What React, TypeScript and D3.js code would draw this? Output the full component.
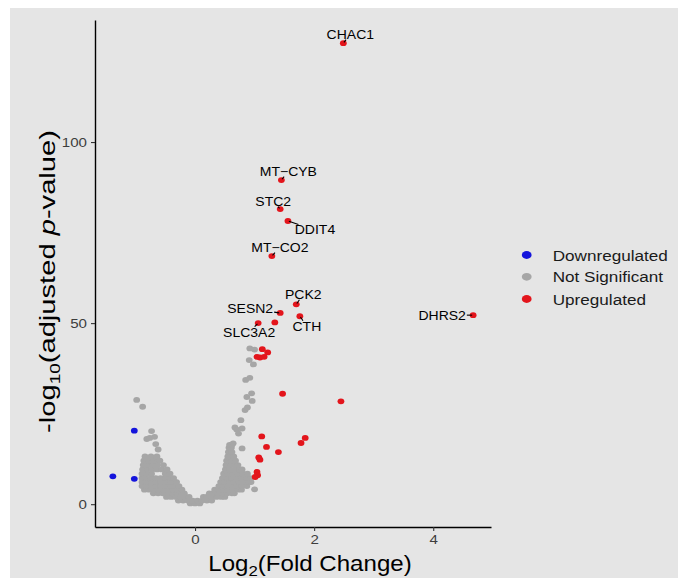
import React, { useEffect, useRef } from "react";
import * as d3 from "d3";

const W = 678;
const H = 578;

// Labelled (upregulated) genes
const geneNames = ["CHAC1", "MT−CYB", "STC2", "DDIT4", "MT−CO2", "PCK2", "SESN2", "CTH", "SLC3A2", "DHRS2"];
const geneLog2FC = [2.49, 1.45, 1.43, 1.56, 1.29, 1.7, 1.43, 1.76, 1.06, 4.67];
const geneNegLogP = [127.3, 89.5, 81.5, 78.2, 68.5, 55.2, 52.8, 51.9, 50.0, 52.2];

// Other upregulated genes
const upLog2FC = [1.13, 1.22, 1.04, 1.09, 1.16, 1.34, 1.47, 2.45, 1.12, 1.2, 1.4, 1.07, 1.09, 1.78, 1.85, 1.04, 1.05, 1.01];
const upNegLogP = [42.8, 41.9, 40.7, 40.5, 40.7, 50.2, 30.5, 28.4, 18.7, 15.8, 14.4, 12.9, 12.3, 16.9, 18.3, 8.9, 8.0, 7.5];

// Downregulated genes
const downLog2FC = [-1.02, -1.38, -1.02];
const downNegLogP = [20.3, 7.7, 7.0];

// Not significant: scattered genes
const nsOutLog2FC = [-0.98, -0.88, -0.73, -0.81, -0.76, -0.68, -0.66, -0.62, 0.92, 1.0, 0.91, 0.98, 0.85, 0.92, 0.87, 0.95, 0.96, 0.84, 0.88, 0.77, 0.67, 0.7, 0.73, 0.79, 0.79, 0.64, 1.0];
const nsOutNegLogP = [28.8, 26.9, 20.2, 18.0, 18.3, 18.6, 16.6, 15.1, 43.0, 42.7, 39.8, 38.6, 34.3, 34.9, 29.6, 30.6, 28.5, 26.0, 26.7, 23.2, 21.2, 20.6, 19.5, 20.9, 15.4, 16.8, 4.1];

// Not significant: dense cloud, by -log10 p row, then log2FC values
const nsRowP = [0.2, 1.0, 2.0, 3.0, 4.0, 5.0, 6.1, 7.2, 8.4, 9.6, 10.8, 12.0, 13.2, 14.4, 15.6, 16.4];
const nsRowFC = [
  [-0.08, 0, 0.08],
  [-0.28, -0.2, -0.12, -0.04, 0.04, 0.12, 0.2, 0.28],
  [-0.48, -0.4, -0.32, -0.24, -0.16, -0.1, 0.14, 0.2, 0.28, 0.36, 0.44, 0.5],
  [-0.7, -0.62, -0.54, -0.46, -0.38, -0.3, -0.22, -0.18, 0.24, 0.3, 0.38, 0.46, 0.54, 0.62, 0.66],
  [-0.85, -0.77, -0.69, -0.61, -0.53, -0.45, -0.37, -0.29, -0.22, 0.33, 0.4, 0.48, 0.56, 0.64, 0.72, 0.78],
  [-0.89, -0.81, -0.73, -0.65, -0.57, -0.49, -0.41, -0.33, -0.27, 0.4, 0.47, 0.55, 0.63, 0.71, 0.79, 0.87],
  [-0.89, -0.81, -0.73, -0.65, -0.57, -0.49, -0.41, -0.33, -0.31, 0.43, 0.5, 0.58, 0.66, 0.74, 0.82, 0.9, 0.94],
  [-0.89, -0.82, -0.74, -0.66, -0.58, -0.5, -0.42, -0.36, 0.46, 0.54, 0.62, 0.7, 0.78, 0.86, 0.93],
  [-0.89, -0.81, -0.73, -0.5, -0.42, 0.48, 0.56, 0.64, 0.72, 0.8, 0.88],
  [-0.88, -0.8, -0.72, -0.64, -0.56, -0.47, 0.51, 0.59, 0.67, 0.75, 0.79],
  [-0.87, -0.79, -0.71, -0.63, -0.53, 0.52, 0.6, 0.68, 0.72],
  [-0.86, -0.78, -0.7, -0.62, -0.59, 0.53, 0.61, 0.68],
  [-0.84, -0.74, -0.64, 0.55, 0.62, 0.65],
  [0.56, 0.62],
  [0.57, 0.61],
  [0.58, 0.62],
];

const legendLabels = ["Downregulated", "Not Significant", "Upregulated"];
const xTicks = [0, 2, 4];
const yTicks = [0, 50, 100];

// layout / style
const COLORS = { down: "#1414dc", ns: "#a6a6a6", up: "#e3151c" };
const FONT = "'Liberation Sans', Arial, Helvetica, sans-serif";
const SX = 1.12; // horizontal stretch of the reference image
// label offsets from point (px): centre of text
const labelDX = [7, 7, -7, 27, 8, 7, -30, 7, -9, -31];
const labelDY = [-9, -9, -8, 9, -9, -10, -4, 10, 9, 0];

export default function App() {
  const ref = useRef<SVGSVGElement | null>(null);

  useEffect(() => {
    const svg = d3.select(ref.current);
    svg.selectAll("*").remove();

    svg.append("rect").attr("x", 10).attr("y", 8).attr("width", W - 10).attr("height", H - 8).attr("fill", "#e5e5e5");

    const x = d3.scaleLinear().domain([-1.68, 4.97]).range([95, 491]);
    const y = d3.scaleLinear().domain([-6.3, 133.7]).range([527, 20]);

    const RX = 3.4, RY = 2.9;

    type P = { fc: number; p: number };
    const ns: P[] = [];
    nsRowP.forEach((p, i) => nsRowFC[i].forEach((fc) => ns.push({ fc, p })));
    nsOutLog2FC.forEach((fc, i) => ns.push({ fc, p: nsOutNegLogP[i] }));
    const down: P[] = downLog2FC.map((fc, i) => ({ fc, p: downNegLogP[i] }));
    const up: P[] = upLog2FC.map((fc, i) => ({ fc, p: upNegLogP[i] }));
    const genes = geneNames.map((n, i) => ({ n, fc: geneLog2FC[i], p: geneNegLogP[i], dx: labelDX[i], dy: labelDY[i] }));

    const pts = svg.append("g");
    const draw = (data: P[], color: string) =>
      pts.append("g").selectAll("ellipse").data(data).join("ellipse")
        .attr("cx", (d) => x(d.fc)).attr("cy", (d) => y(d.p))
        .attr("rx", RX).attr("ry", RY).attr("fill", color);
    draw(ns, COLORS.ns);
    draw(down, COLORS.down);
    draw(up, COLORS.up);
    draw(genes, COLORS.up);

    // axes
    const yAxis = svg.append("g").attr("transform", "translate(95,0)")
      .call(d3.axisLeft(y).tickValues(yTicks).tickFormat(d3.format("d")).tickSize(4).tickSizeOuter(0).tickPadding(4));
    const xAxis = svg.append("g").attr("transform", "translate(0,527)")
      .call(d3.axisBottom(x).tickValues(xTicks).tickFormat(d3.format("d")).tickSize(4).tickSizeOuter(0).tickPadding(3));
    [yAxis, xAxis].forEach((a) => {
      a.select(".domain").attr("stroke", "#000").attr("stroke-width", 1.4);
      a.selectAll(".tick line").attr("stroke", "#333").attr("stroke-width", 1.1);
      a.selectAll(".tick text").attr("font-family", FONT).attr("font-size", 13.5).attr("fill", "#3d3d3d")
        .attr("transform", `scale(${SX},1)`);
    });
    yAxis.selectAll(".tick text").attr("x", -8 / SX);

    // gene labels
    const lab = svg.append("g");
    genes.forEach((g) => {
      const px = x(g.fc), py = y(g.p);
      const cx = px + g.dx, cy = py + g.dy;
      const t = lab.append("text")
        .attr("transform", `translate(${cx},${cy}) scale(${SX},1)`)
        .attr("text-anchor", "middle").attr("y", "0.36em")
        .attr("font-family", FONT).attr("font-size", 12.5).attr("fill", "#000")
        .text(g.n);
      const hw = ((t.node() as SVGTextElement).getComputedTextLength() * SX) / 2 + 1;
      const hh = 5.5;
      const ddx = cx - px, ddy = cy - py;
      const len = Math.hypot(ddx, ddy);
      const s = Math.min(ddx !== 0 ? hw / Math.abs(ddx) : Infinity, ddy !== 0 ? hh / Math.abs(ddy) : Infinity);
      const ex = cx - s * ddx, ey = cy - s * ddy;
      const segLen = Math.hypot(ex - px, ey - py);
      if (segLen > 2.5 && s < 1) {
        lab.append("line")
          .attr("x1", px + (ddx / len) * 1).attr("y1", py + (ddy / len) * 1)
          .attr("x2", ex).attr("y2", ey)
          .attr("stroke", "#000").attr("stroke-width", 1.1);
      }
    });

    // legend
    const lg = svg.append("g");
    const legColors = [COLORS.down, COLORS.ns, COLORS.up];
    const legY = [255, 276.8, 299];
    legendLabels.forEach((l, i) => {
      lg.append("ellipse").attr("cx", 526.7).attr("cy", legY[i]).attr("rx", 4.9).attr("ry", 3.9).attr("fill", legColors[i]);
      lg.append("text").attr("transform", `translate(552.7,${legY[i]}) scale(${SX},1)`)
        .attr("y", "0.36em").attr("font-family", FONT).attr("font-size", 15.3).attr("fill", "#1a1a1a").text(l);
    });

    // x title
    const xt = svg.append("text").attr("transform", `translate(310,570.7) scale(${SX},1)`)
      .attr("text-anchor", "middle").attr("font-family", FONT).attr("font-size", 21.5).attr("fill", "#000");
    xt.append("tspan").text("Log");
    xt.append("tspan").attr("font-size", 15).attr("dy", 5).text("2");
    xt.append("tspan").attr("dy", -5).text("(Fold Change)");

    // y title
    const yt = svg.append("text")
      .attr("text-anchor", "middle").attr("font-family", FONT).attr("font-size", 21.5).attr("fill", "#000");
    yt.append("tspan").text("-log");
    yt.append("tspan").attr("font-size", 14).attr("dy", 5).text("10");
    yt.append("tspan").attr("dy", -5).text("(adjusted ");
    yt.append("tspan").attr("font-style", "italic").text("p");
    yt.append("tspan").text("-value)");
    const bw = (yt.node() as SVGTextElement).getBBox().width;
    const k = 303 / bw;
    yt.attr("transform", `translate(55,281.5) rotate(-90) scale(${k},1)`);
  }, []);

  return (
    <svg ref={ref} width={W} height={H} style={{ position: "absolute", left: 0, top: 0, display: "block" }} />
  );
}
